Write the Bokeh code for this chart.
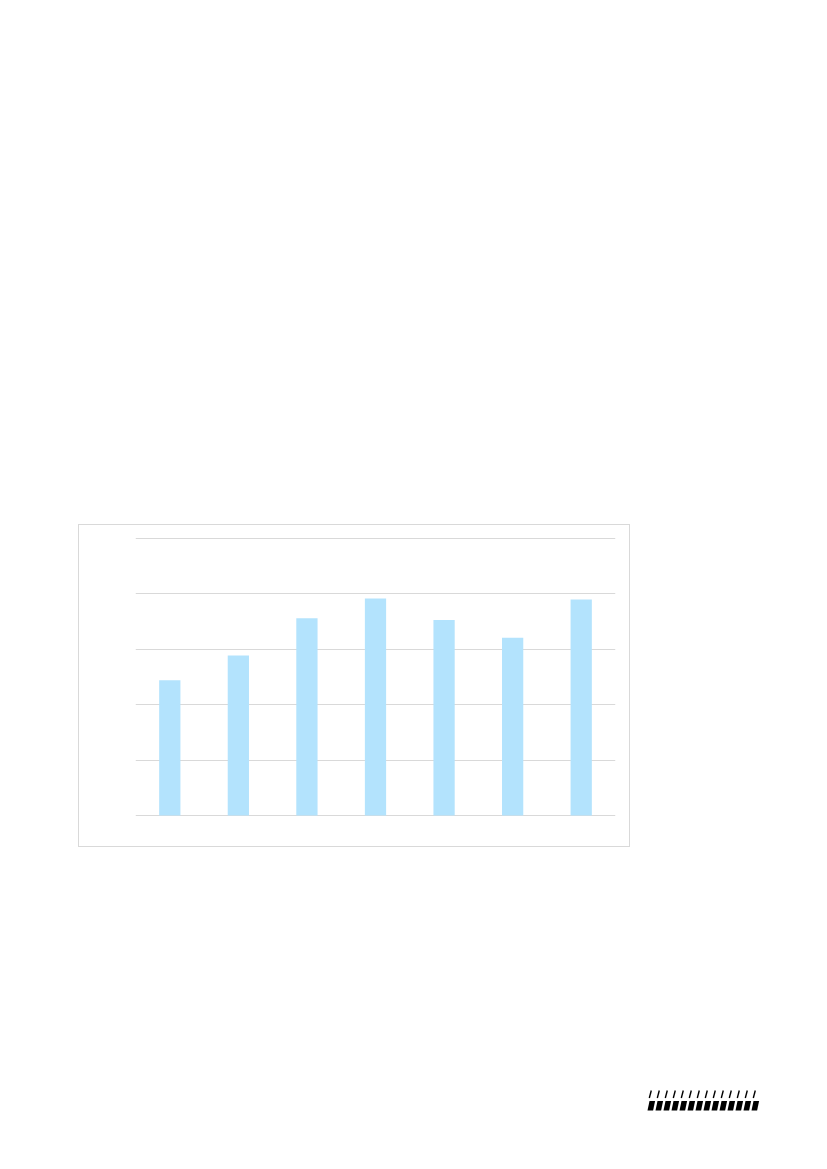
from bokeh.plotting import figure
from bokeh.layouts import column, row
from bokeh.models import Spacer, Range1d, FactorRange, Grid, FixedTicker, ColumnDataSource
from bokeh.embed import file_html
from bokeh.resources import INLINE

# ---- data ----
categories = ["1", "2", "3", "4", "5", "6", "7"]
values = [2.44, 2.89, 3.56, 3.92, 3.53, 3.21, 3.90]
y_ticks = [0, 1, 2, 3, 4, 5]

BAR = "#b3e3fd"
GRID = "#d9d9d9"

src = ColumnDataSource(dict(cat=categories, val=values))

p = figure(
    width=552, height=323,
    x_range=FactorRange(*categories, range_padding=0),
    y_range=Range1d(-0.02, 5.02),
    x_axis_location=None, y_axis_location=None,
    output_backend="svg", toolbar_location=None,
    min_border_left=56, min_border_right=16,
    min_border_top=12, min_border_bottom=32,
)
p.center = []
p.outline_line_color = None
p.background_fill_color = "white"
p.border_fill_color = "white"
p.styles = {"border": "1px solid " + GRID}
p.add_layout(Grid(dimension=1, ticker=FixedTicker(ticks=y_ticks),
                  grid_line_color=GRID, grid_line_width=1))
p.vbar(x="cat", top="val", width=0.31, bottom=0, source=src,
       fill_color=BAR, line_color=None)

# ---- decorative footer mark ----
logo = figure(width=116, height=26, x_range=Range1d(0, 116), y_range=Range1d(0, 26),
              x_axis_location=None, y_axis_location=None,
              output_backend="svg", toolbar_location=None,
              min_border=0)
logo.center = []
logo.outline_line_color = None
xs_b, ys_b, x0s, y0s, x1s, y1s = [], [], [], [], [], []
for i in range(14):
    x = 2 + 8 * i
    xs_b.append([x, x + 5.6, x + 7.6, x + 2.0])
    ys_b.append([2, 2, 11.5, 11.5])
    x0s.append(x + 1.8)
    y0s.append(14.5)
    x1s.append(x + 3.8)
    y1s.append(22.0)
logo.patches(xs_b, ys_b, fill_color="black", line_color=None)
logo.segment(x0s, y0s, x1s, y1s, line_color="black", line_width=1.4)

layout = column(
    Spacer(height=524),
    row(Spacer(width=78), p),
    Spacer(height=239),
    row(Spacer(width=645), logo),
)

open("out.html", "w").write(file_html(layout, INLINE))
